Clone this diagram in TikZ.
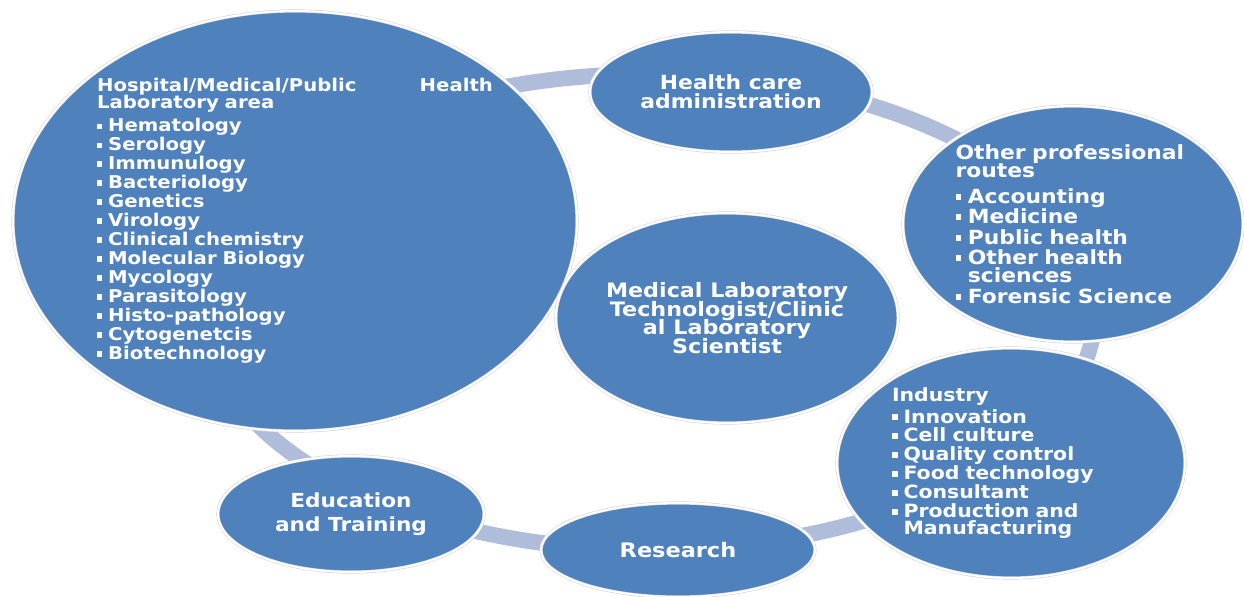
\documentclass[tikz,border=0pt]{standalone}
\usepackage{fontspec}
\newfontfamily\cardfont[FakeStretch=1.12]{DejaVu Sans Bold}
\usetikzlibrary{shapes.geometric}

\definecolor{cardblue}{RGB}{79,129,189}
\definecolor{ringblue}{RGB}{175,189,218}

% small square bullet for the lists
\newcommand{\bul}{\rule[0.18em]{0.3em}{0.3em}\hspace{0.33em}}

\begin{document}
\begin{tikzpicture}[x=0.02cm, y=-0.02cm,
    card/.style={ellipse, fill=cardblue, draw=black!18, line width=0.3pt, double=white, double distance=1.2pt, text=white, inner sep=0pt,
        execute at begin node={\lineskiplimit=-20pt}},
    dims/.style 2 args={minimum width=#1*0.02cm, minimum height=#2*0.02cm}]

    \useasboundingbox (0,0) rectangle (1244,596);

    % the ring that links the careers
    \draw[ringblue, line width=9pt] (650,312) ellipse [x radius=445, y radius=238];

    % Define the careers (nodes)
    \node[card, dims={564}{420}, font=\fontsize{10}{10.8}\cardfont, text width=7.92cm, align=left] (hosp) at (295,221) {Hospital/Medical/Public\hfill Health\\[-1.1pt]
        Laboratory area\\[2.3pt]
        \bul Hematology\\ \bul Serology\\ \bul Immunulogy\\ \bul Bacteriology\\ \bul Genetics\\ \bul Virology\\
        \bul Clinical chemistry\\ \bul Molecular Biology\\ \bul Mycology\\ \bul Parasitology\\ \bul Histo-pathology\\
        \bul Cytogenetcis\\ \bul Biotechnology};
    \node[card, dims={282}{120}, font=\fontsize{11.1}{10.8}\cardfont, align=center] (admin) at (731,92) {Health care\\administration};
    \node[card, dims={340}{236}, font=\fontsize{11.1}{11.7}\cardfont, text width=4.7cm, align=left] (other) at (1073,224) {Other professional\\[-1.5pt]
        routes\\[3.1pt]
        \bul Accounting\\ \bul Medicine\\ \bul Public health\\ \bul Other health\\[-1.5pt] \hphantom{\bul}sciences\\ \bul Forensic Science};
    \node[card, dims={338}{210}, font=\fontsize{11.3}{10.5}\cardfont, align=center] (mlt) at (727,318) {Medical Laboratory\\Technologist/Clinic\\al Laboratory\\Scientist};
    \node[card, dims={348}{230}, font=\fontsize{10.4}{10.8}\cardfont, text width=4.76cm, align=left] (industry) at (1011,463) {Industry\\[1.7pt]
        \bul Innovation\\ \bul Cell culture\\ \bul Quality control\\ \bul Food technology\\ \bul Consultant\\
        \bul Production and\\[-1.1pt] \hphantom{\bul}Manufacturing};
    \node[card, dims={274}{94}, font=\fontsize{11.4}{12}\cardfont, align=center] (research) at (678,550) {Research};
    \node[card, dims={266}{116}, font=\fontsize{11}{13.7}\cardfont, align=center] (edu) at (351,514) {Education\\and Training};
\end{tikzpicture}
\end{document}
